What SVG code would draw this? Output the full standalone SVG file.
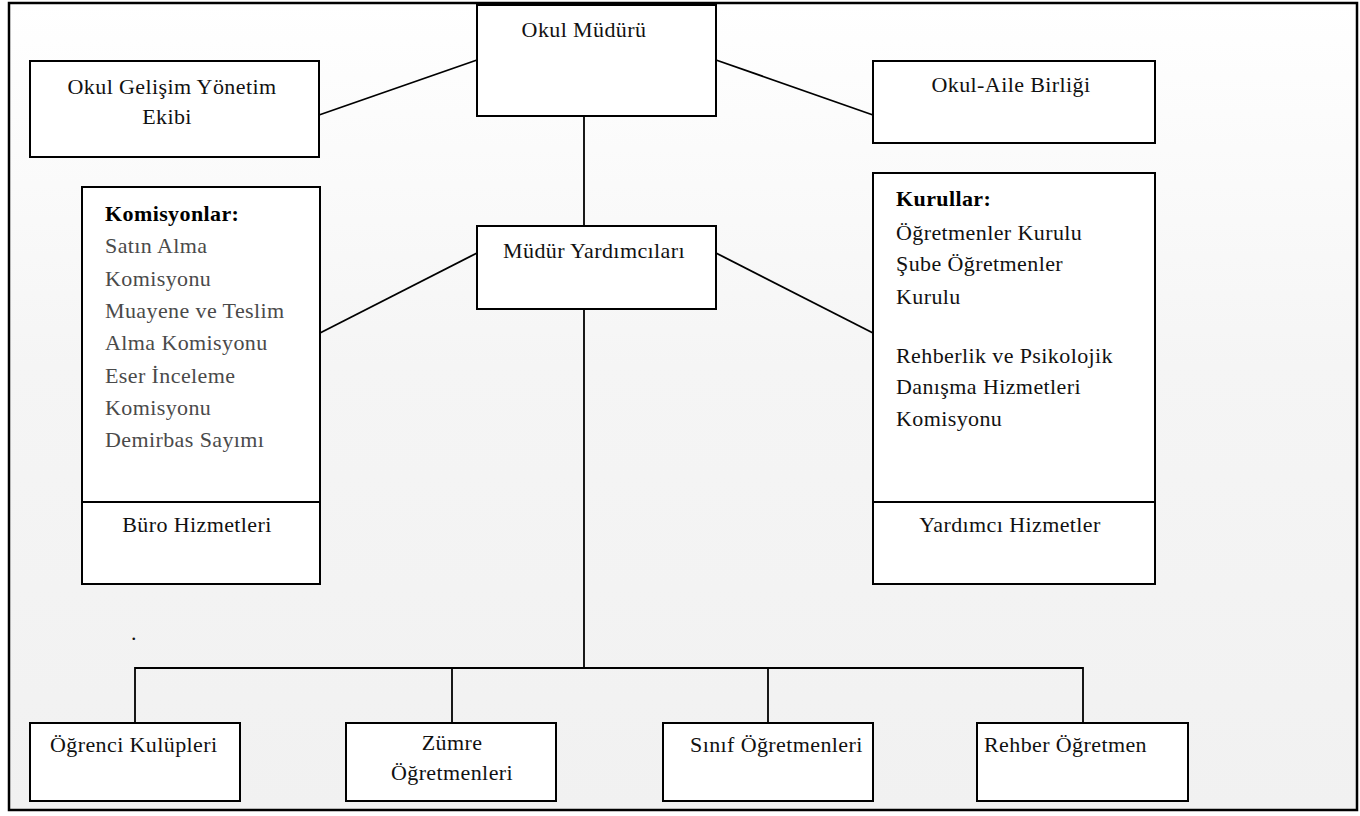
<svg xmlns="http://www.w3.org/2000/svg" width="1360" height="816" viewBox="0 0 1360 816">
  <defs>
    <linearGradient id="bg" x1="0" y1="0" x2="0" y2="1">
      <stop offset="0" stop-color="#ffffff"/>
      <stop offset="0.45" stop-color="#f5f5f5"/>
      <stop offset="1" stop-color="#f1f1f1"/>
    </linearGradient>
    <style>
      .box { fill: #ffffff; stroke: #000000; stroke-width: 2; }
      .ln { fill: none; stroke: #000000; stroke-width: 1.8; }
      text { font-family: "Liberation Serif", "DejaVu Serif", serif; font-size: 22px; letter-spacing: 0.4px; fill: #111111; }
      .c { text-anchor: middle; }
      .g { fill: #4a4a4a; }
      .b { font-weight: bold; fill: #000000; }
    </style>
  </defs>

  <rect id="frame" x="9" y="3" width="1348" height="807" fill="url(#bg)" stroke="#000000" stroke-width="2.5"/>

  <g id="connectors">
    <line class="ln" x1="319" y1="115" x2="477" y2="60"/>
    <line class="ln" x1="716" y1="60" x2="873" y2="115"/>
    <line class="ln" x1="584" y1="116" x2="584" y2="226"/>
    <line class="ln" x1="320" y1="333" x2="477" y2="253"/>
    <line class="ln" x1="716" y1="253" x2="873" y2="333"/>
    <line class="ln" x1="584" y1="309" x2="584" y2="668"/>
    <polyline class="ln" points="135,723 135,668 1083,668 1083,723"/>
    <line class="ln" x1="452" y1="668" x2="452" y2="723"/>
    <line class="ln" x1="768" y1="668" x2="768" y2="723"/>
  </g>

  <g id="okul-muduru">
    <rect class="box" x="477" y="5" width="239" height="111"/>
    <text class="c" x="584" y="37">Okul Müdürü</text>
  </g>

  <g id="okul-gelisim">
    <rect class="box" x="30" y="61" width="289" height="96"/>
    <text class="c" x="172" y="94">Okul Gelişim Yönetim</text>
    <text class="c" x="167" y="124">Ekibi</text>
  </g>

  <g id="okul-aile">
    <rect class="box" x="873" y="61" width="282" height="82"/>
    <text class="c" x="1011" y="92">Okul-Aile Birliği</text>
  </g>

  <g id="mudur-yardimcilari">
    <rect class="box" x="477" y="226" width="239" height="83"/>
    <text class="c" x="594" y="258">Müdür Yardımcıları</text>
  </g>

  <g id="komisyonlar">
    <rect class="box" x="82" y="187" width="238" height="397"/>
    <line class="ln" x1="82" y1="502" x2="320" y2="502"/>
    <text class="b" x="105" y="221">Komisyonlar:</text>
    <text class="g" x="105" y="253">Satın Alma</text>
    <text class="g" x="105" y="286">Komisyonu</text>
    <text class="g" x="105" y="318">Muayene ve Teslim</text>
    <text class="g" x="105" y="350">Alma Komisyonu</text>
    <text class="g" x="105" y="383">Eser İnceleme</text>
    <text class="g" x="105" y="415">Komisyonu</text>
    <text class="g" x="105" y="447">Demirbas Sayımı</text>
    <text class="c" x="197" y="532">Büro Hizmetleri</text>
  </g>

  <g id="kurullar">
    <rect class="box" x="873" y="173" width="282" height="411"/>
    <line class="ln" x1="873" y1="502" x2="1155" y2="502"/>
    <text class="b" x="896" y="206">Kurullar:</text>
    <text x="896" y="240">Öğretmenler Kurulu</text>
    <text x="896" y="271">Şube Öğretmenler</text>
    <text x="896" y="304">Kurulu</text>
    <text x="896" y="363">Rehberlik ve Psikolojik</text>
    <text x="896" y="394">Danışma Hizmetleri</text>
    <text x="896" y="426">Komisyonu</text>
    <text class="c" x="1010" y="532">Yardımcı Hizmetler</text>
  </g>

  <text id="dot" x="131" y="640">.</text>

  <g id="ogrenci-kulupleri">
    <rect class="box" x="30" y="723" width="210" height="78"/>
    <text x="50" y="752">Öğrenci Kulüpleri</text>
  </g>

  <g id="zumre">
    <rect class="box" x="346" y="723" width="210" height="78"/>
    <text class="c" x="452" y="750">Zümre</text>
    <text class="c" x="452" y="780">Öğretmenleri</text>
  </g>

  <g id="sinif">
    <rect class="box" x="663" y="723" width="210" height="78"/>
    <text x="690" y="752">Sınıf Öğretmenleri</text>
  </g>

  <g id="rehber">
    <rect class="box" x="977" y="723" width="211" height="78"/>
    <text x="984" y="752">Rehber Öğretmen</text>
  </g>
</svg>
